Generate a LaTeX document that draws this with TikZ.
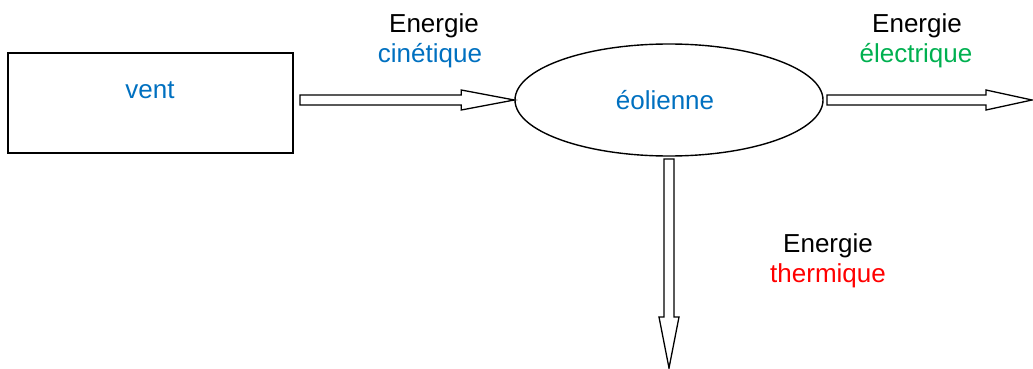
\documentclass[tikz,border=0pt]{standalone}
\usepackage{fontspec}
\setmainfont{Liberation Sans}
\usetikzlibrary{calc,shapes.geometric}
\definecolor{tblue}{HTML}{0070C0}
\definecolor{tgreen}{HTML}{00B050}
\definecolor{tred}{HTML}{FF0000}
\tikzset{
  hlen/.store in=\hlen, hlen=52,
  blockarrow/.style={draw, line width=1.3pt, fill=white, line join=miter, to path={
    let \p1=(\tikztostart), \p2=(\tikztotarget),
        \n1={veclen(\x2-\x1,\y2-\y1)}, \n2={(\x2-\x1)/\n1}, \n3={(\y2-\y1)/\n1}, \n4={\n1-\hlen} in
    ({\x1-5*(\n3)},{\y1+5*(\n2)})
    -- ({\x1+(\n4)*(\n2)-5*(\n3)},{\y1+(\n4)*(\n3)+5*(\n2)})
    -- ({\x1+(\n4)*(\n2)-10*(\n3)},{\y1+(\n4)*(\n3)+10*(\n2)})
    -- (\p2)
    -- ({\x1+(\n4)*(\n2)+10*(\n3)},{\y1+(\n4)*(\n3)-10*(\n2)})
    -- ({\x1+(\n4)*(\n2)+5*(\n3)},{\y1+(\n4)*(\n3)-5*(\n2)})
    -- ({\x1+5*(\n3)},{\y1-5*(\n2)})
    -- cycle
  }},
  box/.style={draw, line width=1.5pt, minimum width=285pt, minimum height=100pt, inner sep=0pt},
  ell/.style={draw, ellipse, line width=1.4pt, minimum width=308pt, minimum height=112pt, inner sep=0pt},
  txt/.style={font=\fontsize{26}{31}\selectfont, anchor=base, inner sep=0pt},
}
\begin{document}
\begin{tikzpicture}
\useasboundingbox (0,0) rectangle (1033pt,-369pt);
\node[box] (vent) at (150.5pt,-103pt) {};
\node[txt, text=tblue] (ventlbl) at (150pt,-98pt) {vent};
\node[ell] (eol) at (669pt,-100pt) {};
\node[txt, text=tblue] (eollbl) at (665pt,-109pt) {éolienne};

\coordinate (a1s) at (300pt,-100pt);
\coordinate (a1e) at (eol.west);
\coordinate (a2s) at (827pt,-100pt);
\coordinate (a2e) at (1032pt,-100pt);
\coordinate (a3s) at (669pt,-159pt);
\coordinate (a3e) at (669pt,-368pt);

\draw[blockarrow, hlen=53] (a1s) to (a1e);
\draw[blockarrow, hlen=46] (a2s) to (a2e);
\draw[blockarrow, hlen=51] (a3s) to (a3e);

\node[txt] (e1) at (434pt,-33pt) {Energie};
\node[txt, text=tblue] (c1) at (430pt,-63pt) {cinétique};
\node[txt] (e2) at (917pt,-33pt) {Energie};
\node[txt, text=tgreen] (c2) at (916pt,-63pt) {électrique};
\node[txt] (e3) at (828pt,-252pt) {Energie};
\node[txt, text=tred] (c3) at (828pt,-282pt) {thermique};
\end{tikzpicture}
\end{document}
